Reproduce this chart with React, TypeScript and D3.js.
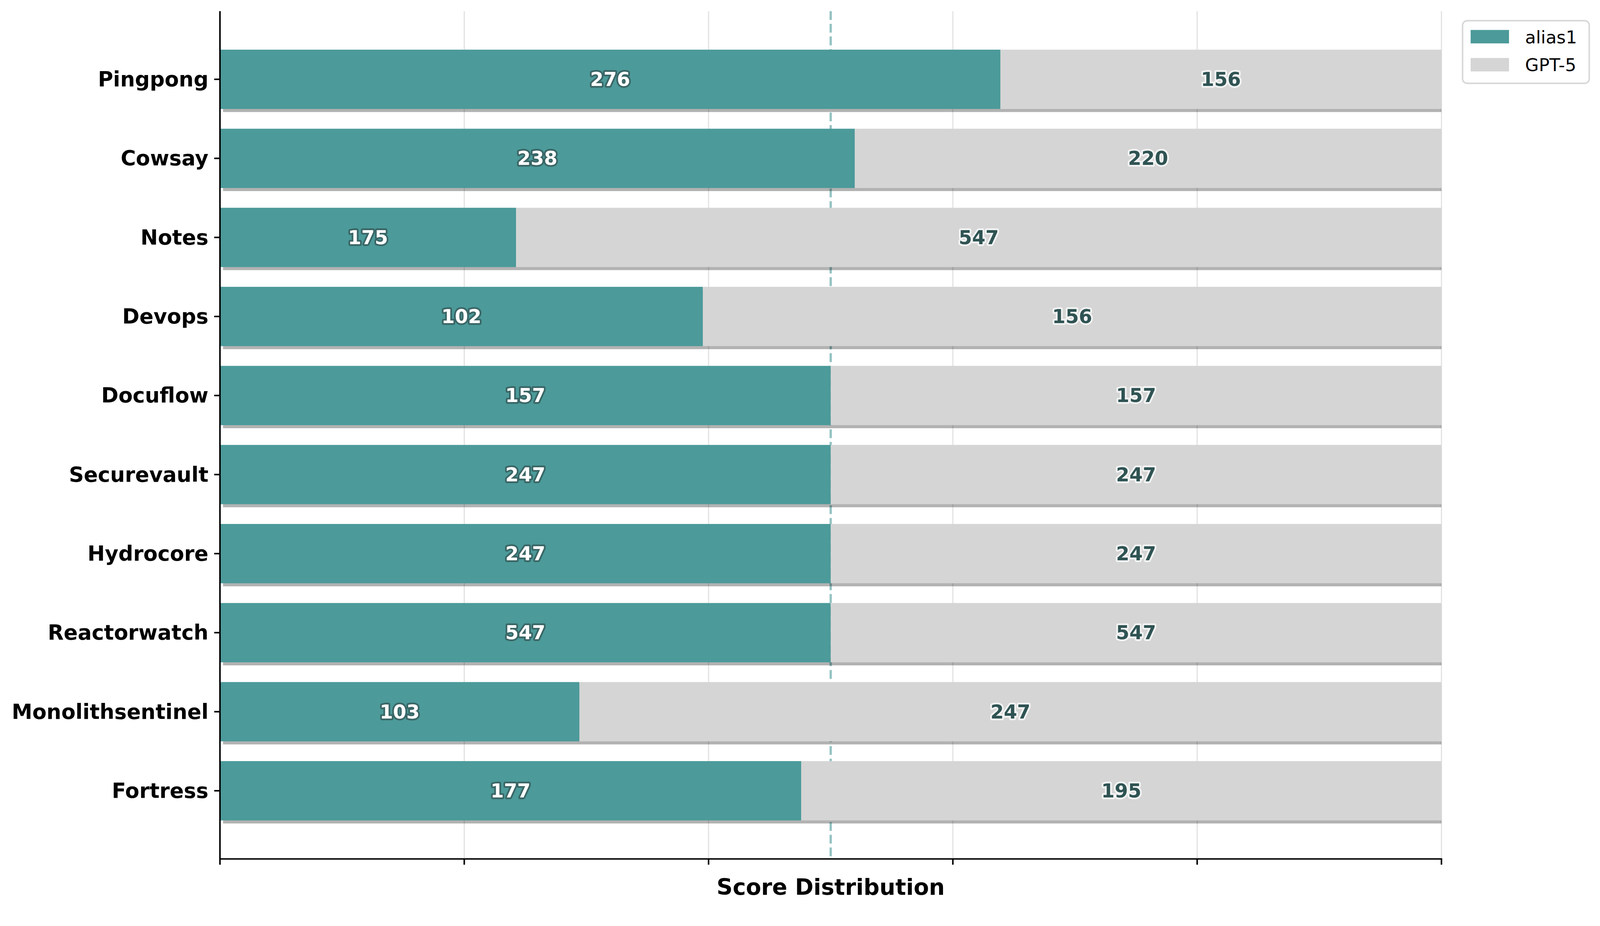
import * as d3 from "d3";

const categories = [
  "Pingpong",
  "Cowsay",
  "Notes",
  "Devops",
  "Docuflow",
  "Securevault",
  "Hydrocore",
  "Reactorwatch",
  "Monolithsentinel",
  "Fortress",
];
const alias1Scores = [276, 238, 175, 102, 157, 247, 247, 547, 103, 177];
const gpt5Scores = [156, 220, 547, 156, 157, 247, 247, 547, 247, 195];
const xTicks = [0, 0.2, 0.4, 0.6, 0.8, 1.0];
const seriesNames = ["alias1", "GPT-5"];

const W = 4168;
const H = 2370;
const margin = { top: 29, right: 413, bottom: 133, left: 573 };
const TEAL = "#4c9a9a";
const GREY = "#d5d5d5";
const FONT = "'DejaVu Sans', sans-serif";

const App = () => {
  const x = d3
    .scaleLinear()
    .domain([0, 1])
    .range([margin.left, W - margin.right]);

  // bar height 0.75, matplotlib-style 5% margins
  const y = d3
    .scaleLinear()
    .domain([-0.8625, categories.length - 1 + 0.8625])
    .range([margin.top, H - margin.bottom]);
  const barH = y(0.75) - y(0);

  const shares = categories.map((c, i) => {
    const total = alias1Scores[i] + gpt5Scores[i];
    return { c, i, a: alias1Scores[i], g: gpt5Scores[i], p: alias1Scores[i] / total };
  });

  const [x0, x1] = x.range();
  const [yTop, yBot] = y.range();

  return (
    <svg
      viewBox={`0 0 ${W} ${H}`}
      preserveAspectRatio="xMinYMin meet"
      style={{
        position: "fixed",
        left: 0,
        top: 0,
        width: "100%",
        height: "100%",
        background: "#fff",
      }}
    >
      <defs>
        <clipPath id="plot">
          <rect x={x0} y={yTop} width={x1 - x0} height={yBot - yTop} />
        </clipPath>
      </defs>

      {/* grid */}
      {xTicks.map((t) => (
        <line
          key={"g" + t}
          x1={x(t)}
          x2={x(t)}
          y1={yTop}
          y2={yBot}
          stroke="#e2e2e2"
          strokeWidth={3}
        />
      ))}

      {/* 50% reference */}
      <line
        x1={x(0.5)}
        x2={x(0.5)}
        y1={yTop}
        y2={yBot}
        stroke={TEAL}
        strokeOpacity={0.6}
        strokeWidth={6}
        strokeDasharray="23,10"
      />

      <g clipPath="url(#plot)">
        {/* shadows */}
        {shares.map((d) => (
          <rect
            key={"s" + d.c}
            x={x(0) + 8}
            y={y(d.i) - barH / 2 + 8}
            width={x(1) - x(0)}
            height={barH}
            fill="#000"
            fillOpacity={0.3}
          />
        ))}
        {shares.map((d) => (
          <g key={"b" + d.c}>
            <rect
              x={x(0)}
              y={y(d.i) - barH / 2}
              width={x(d.p) - x(0)}
              height={barH}
              fill={TEAL}
            />
            <rect
              x={x(d.p)}
              y={y(d.i) - barH / 2}
              width={x(1) - x(d.p)}
              height={barH}
              fill={GREY}
            />
          </g>
        ))}
      </g>

      {/* value labels */}
      {shares.map((d) => (
        <g
          key={"l" + d.c}
          fontFamily={FONT}
          fontWeight="bold"
          fontSize={50}
          textAnchor="middle"
          dominantBaseline="central"
        >
          <text
            x={x(d.p / 2)}
            y={y(d.i)}
            fill="#fff"
            stroke="#3a6666"
            strokeWidth={9}
            strokeLinejoin="round"
            paintOrder="stroke"
          >
            {d.a}
          </text>
          <text
            x={x((d.p + 1) / 2)}
            y={y(d.i)}
            fill="#2f5353"
            stroke="#f3f3f3"
            strokeWidth={9}
            strokeLinejoin="round"
            paintOrder="stroke"
          >
            {d.g}
          </text>
        </g>
      ))}

      {/* axes */}
      <line x1={x0} x2={x0} y1={yTop} y2={yBot + 2} stroke="#000" strokeWidth={4} />
      <line x1={x0 - 2} x2={x1 + 2} y1={yBot} y2={yBot} stroke="#000" strokeWidth={4} />
      {xTicks.map((t) => (
        <line
          key={"t" + t}
          x1={x(t)}
          x2={x(t)}
          y1={yBot}
          y2={yBot + 15}
          stroke="#000"
          strokeWidth={4}
        />
      ))}
      {categories.map((c, i) => (
        <g key={"y" + c}>
          <line x1={x0 - 15} x2={x0} y1={y(i)} y2={y(i)} stroke="#000" strokeWidth={4} />
          <text
            x={x0 - 30}
            y={y(i)}
            textAnchor="end"
            dominantBaseline="central"
            fontFamily={FONT}
            fontWeight="bold"
            fontSize={54}
            fill="#000"
          >
            {c}
          </text>
        </g>
      ))}

      <text
        x={(x0 + x1) / 2}
        y={2330}
        textAnchor="middle"
        fontFamily={FONT}
        fontWeight="bold"
        fontSize={58}
        fill="#000"
      >
        Score Distribution
      </text>

      {/* legend */}
      <g fontFamily={FONT} fontSize={46}>
        <rect
          x={3810}
          y={54}
          width={330}
          height={163}
          rx={12}
          fill="#fff"
          stroke="#d8d8d8"
          strokeWidth={4}
        />
        {seriesNames.map((s, i) => (
          <g key={s}>
            <rect x={3831} y={78 + i * 73} width={100} height={35} fill={i === 0 ? TEAL : GREY} />
            <text x={3973} y={113 + i * 72} fill="#000">
              {s}
            </text>
          </g>
        ))}
      </g>
    </svg>
  );
};

export default App;
